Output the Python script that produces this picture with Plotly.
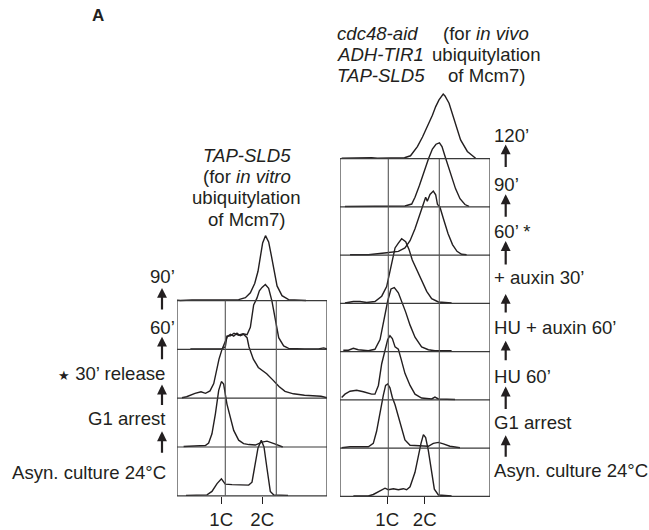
import plotly.graph_objects as go

# ---------------- data (x in channel units 0-1000, h in row heights) ----------------
left_rows = ["Asyn. culture 24°C", "G1 arrest", "<span style=\"font-size:13px\">★</span> 30’ release", "60’", "90’"]
right_rows = ["Asyn. culture 24°C", "G1 arrest", "HU 60’", "HU + auxin 60’",
              "+ auxin 30’", "60’ *", "90’", "120’"]
tick_vals_left = [295, 568]
tick_vals_right = [315, 565]
tick_text = ["1C", "2C"]
grid_x = [322, 662]

L_asyn_x = [60, 120, 200, 233, 267, 296, 322, 367, 411, 478, 500, 522, 540, 562, 580, 600, 622, 644, 700, 740]
L_asyn_h = [0.01, 0.02, 0.02, 0.09, 0.25, 0.35, 0.24, 0.23, 0.22, 0.22, 0.28, 0.7, 0.98, 1.14, 1.0, 0.56, 0.09, 0.02, 0.01, 0.01]
L_g1_x = [44, 100, 189, 211, 233, 256, 278, 296, 311, 333, 356, 378, 411, 444, 480, 522, 567, 600, 656, 705]
L_g1_h = [0.01, 0.02, 0.03, 0.08, 0.27, 0.68, 1.16, 1.34, 1.29, 0.88, 0.61, 0.34, 0.14, 0.07, 0.05, 0.04, 0.1, 0.12, 0.06, 0.0]
L_30_x = [33, 64, 120, 160, 190, 220, 245, 262, 280, 300, 318, 335, 356, 378, 400, 422, 444, 467, 480, 509, 542, 598, 640, 680, 720, 776, 850, 900, 960, 1000]
L_30_h = [0.01, 0.03, 0.1, 0.13, 0.1, 0.15, 0.3, 0.55, 0.8, 1.0, 1.15, 1.26, 1.31, 1.27, 1.33, 1.28, 1.31, 1.24, 1.05, 0.8, 0.63, 0.5, 0.37, 0.24, 0.14, 0.09, 0.06, 0.05, 0.04, 0.01]
L_60_x = [89, 189, 300, 322, 333, 356, 380, 411, 440, 467, 489, 511, 533, 549, 567, 589, 611, 633, 656, 678, 711, 744, 850, 944, 978, 1000]
L_60_h = [0.01, 0.01, 0.01, 0.05, 0.27, 0.28, 0.33, 0.29, 0.32, 0.3, 0.45, 0.91, 1.05, 1.2, 1.27, 1.33, 1.25, 0.99, 0.58, 0.24, 0.07, 0.02, 0.01, 0.01, 0.03, 0.01]
L_90_x = [0, 22, 100, 233, 411, 456, 489, 518, 540, 556, 571, 590, 611, 629, 644, 667, 700, 744, 860]
L_90_h = [0.01, 0.0, 0.01, 0.01, 0.02, 0.06, 0.16, 0.35, 0.6, 0.9, 1.18, 1.33, 1.2, 0.92, 0.65, 0.3, 0.1, 0.02, 0.0]

R_asyn_x = [89, 189, 222, 256, 300, 322, 356, 389, 422, 444, 467, 500, 522, 540, 556, 571, 589, 611, 629, 656, 744]
R_asyn_h = [0.01, 0.01, 0.04, 0.1, 0.17, 0.14, 0.16, 0.14, 0.16, 0.14, 0.2, 0.5, 0.85, 1.1, 1.28, 1.22, 0.95, 0.45, 0.15, 0.03, 0.01]
R_g1_x = [11, 67, 189, 222, 244, 267, 289, 304, 318, 333, 349, 367, 389, 411, 433, 467, 544, 589, 622, 656, 689, 733, 800]
R_g1_h = [0.01, 0.03, 0.03, 0.1, 0.35, 0.75, 1.1, 1.3, 1.33, 1.25, 1.05, 0.9, 0.66, 0.38, 0.17, 0.06, 0.04, 0.04, 0.1, 0.12, 0.09, 0.04, 0.01]
R_hu_x = [11, 33, 67, 111, 156, 211, 233, 256, 278, 300, 318, 333, 349, 367, 389, 407, 433, 467, 500, 544, 611, 633, 656, 767]
R_hu_h = [0.05, 0.12, 0.18, 0.2, 0.17, 0.12, 0.12, 0.3, 0.75, 1.05, 1.25, 1.33, 1.27, 1.1, 1.05, 0.85, 0.55, 0.3, 0.12, 0.04, 0.02, 0.06, 0.02, 0.01]
R_huaux_x = [22, 56, 89, 122, 189, 233, 267, 296, 318, 340, 362, 389, 411, 438, 467, 500, 544, 589, 633, 744]
R_huaux_h = [0.03, 0.03, 0.07, 0.04, 0.02, 0.05, 0.25, 0.7, 1.05, 1.3, 1.33, 1.22, 1.05, 0.82, 0.55, 0.3, 0.1, 0.04, 0.02, 0.02]
R_aux30_x = [33, 56, 89, 133, 178, 233, 278, 311, 344, 367, 389, 411, 438, 460, 482, 511, 544, 578, 611, 656, 744]
R_aux30_h = [0.01, 0.02, 0.04, 0.04, 0.02, 0.04, 0.15, 0.35, 0.85, 1.15, 1.25, 1.34, 1.28, 1.12, 0.9, 0.7, 0.45, 0.25, 0.1, 0.03, 0.01]
R_60_x = [67, 189, 311, 389, 433, 467, 500, 533, 556, 571, 582, 600, 622, 638, 650, 666, 690, 720, 750, 780, 811, 844]
R_60_h = [0.01, 0.01, 0.05, 0.08, 0.15, 0.3, 0.55, 0.85, 1.05, 1.2, 1.12, 1.26, 1.33, 1.25, 1.05, 1.0, 0.75, 0.45, 0.22, 0.08, 0.02, 0.01]
R_90_x = [33, 189, 433, 478, 500, 530, 560, 590, 616, 640, 663, 680, 700, 720, 745, 770, 800, 833, 860]
R_90_h = [0.01, 0.01, 0.02, 0.06, 0.2, 0.45, 0.75, 1.0, 1.2, 1.3, 1.33, 1.25, 1.05, 0.85, 0.6, 0.38, 0.17, 0.05, 0.01]
R_120_x = [11, 100, 140, 167, 211, 250, 278, 411, 430, 470, 516, 550, 583, 616, 638, 660, 688, 700, 727, 749, 771, 804, 849, 904]
R_120_h = [0.01, 0.02, 0.01, 0.02, 0.02, 0.01, 0.01, 0.01, 0.02, 0.06, 0.25, 0.45, 0.67, 0.9, 1.08, 1.22, 1.34, 1.3, 1.15, 0.94, 0.7, 0.39, 0.15, 0.01]

left_curves = [(L_asyn_x, L_asyn_h), (L_g1_x, L_g1_h), (L_30_x, L_30_h), (L_60_x, L_60_h), (L_90_x, L_90_h)]
right_curves = [(R_asyn_x, R_asyn_h), (R_g1_x, R_g1_h), (R_hu_x, R_hu_h), (R_huaux_x, R_huaux_h),
                (R_aux30_x, R_aux30_h), (R_60_x, R_60_h), (R_90_x, R_90_h), (R_120_x, R_120_h)]

W, H = 649, 530
FONT = "Liberation Sans, Arial, Helvetica, sans-serif"
INK = "#231f20"
FS = 18.6
DY = 0.5  # small vertical nudge so glyph centres sit where the reference has them

fig = go.Figure()
for i, (xs, hs) in enumerate(left_curves):
    fig.add_trace(go.Scatter(x=xs, y=[h + i for h in hs], mode="lines",
                             line=dict(color=INK, width=1.4), xaxis="x", yaxis="y",
                             showlegend=False, hoverinfo="skip"))
for i, (xs, hs) in enumerate(right_curves):
    fig.add_trace(go.Scatter(x=xs, y=[h + i for h in hs], mode="lines",
                             line=dict(color=INK, width=1.4), xaxis="x2", yaxis="y2",
                             showlegend=False, hoverinfo="skip"))

# box outlines and grid lines
shapes = []
def panel_shapes(xr, yr, nrows):
    out = [dict(type="rect", xref=xr, yref=yr, x0=0, x1=1000, y0=0, y1=nrows,
                line=dict(color="#3a3a3a", width=1.2))]
    for k in range(1, nrows):
        out.append(dict(type="line", xref=xr, yref=yr, x0=0, x1=1000, y0=k, y1=k,
                        line=dict(color="#3a3a3a", width=1.2)))
    for gx in grid_x:
        out.append(dict(type="line", xref=xr, yref=yr, x0=gx, x1=gx, y0=0, y1=nrows,
                        line=dict(color="#555", width=1.1)))
    return out
shapes += panel_shapes("x", "y", len(left_rows) - 1)
shapes += panel_shapes("x2", "y2", len(right_rows) - 1)

def px(x):
    return x / W
def py(y):
    return 1 - y / H

ann = []
def text(t, x, y, xa="center", size=FS, bold=False):
    ann.append(dict(text=("<b>%s</b>" % t) if bold else t, x=px(x), y=py(y + DY), xref="paper", yref="paper",
                    xanchor=xa, yanchor="middle", showarrow=False,
                    font=dict(family=FONT, size=size, color=INK)))
def arrow(x, ytop, ybot):
    ann.append(dict(text="", x=px(x), y=py(ytop), xref="paper", yref="paper",
                    ax=0, ay=ybot - ytop, showarrow=True, arrowhead=2, arrowsize=0.9,
                    arrowwidth=2.2, arrowcolor=INK, standoff=0))

text("A", 97.5, 15, size=17, bold=True)

# left titles
for t, y in [("<i>TAP-SLD5</i>", 156), ("(for <i>in vitro</i>", 177), ("ubiquitylation", 198), ("of Mcm7)", 220)]:
    text(t, 246.7, y)
# right titles
for t, y in [("<i>cdc48-aid</i>", 33.5), ("<i>ADH-TIR1</i>", 54.5), ("<i>TAP-SLD5</i>", 75.5)]:
    text(t, 335, y, xa="left")
for t, y in [("(for <i>in vivo</i>", 33.5), ("ubiquitylation", 54.5), ("of Mcm7)", 75.5)]:
    text(t, 486, y)

# left row labels
left_pos = [(168, 474, "right"), (168, 420, "right"), (167, 374, "right"), (162, 328, "center"), (162, 277, "center")]
for lab, (x, y, xa) in zip(left_rows, left_pos):
    text(lab, x, y, xa=xa)
for yt, yb in [(289, 312), (338, 362), (386, 408), (433, 456)]:
    arrow(162, yt, yb)

# right row labels
right_y = [472, 424, 377, 328, 278, 232, 185, 136]
for lab, y in zip(right_rows, right_y):
    text(lab, 492, y, xa="left")
for yt, yb in [(145, 169), (195, 219), (242, 267), (295, 315), (342, 363), (388, 412), (437, 460)]:
    arrow(505.7, yt, yb)

bottom_pos = (H - 498) / H
axis_common = dict(range=[0, 1000], showgrid=False, zeroline=False, showline=False,
                   ticks="outside", ticklen=7, tickwidth=1.3, tickcolor=INK,
                   tickfont=dict(family=FONT, size=FS, color=INK), anchor="free",
                   position=bottom_pos, fixedrange=True, ticktext=tick_text)

fig.update_layout(
    width=W, height=H, margin=dict(l=0, r=0, t=0, b=0),
    paper_bgcolor="white", plot_bgcolor="rgba(0,0,0,0)",
    xaxis=dict(domain=[177 / W, 327 / W], tickvals=tick_vals_left, **axis_common),
    xaxis2=dict(domain=[340 / W, 490 / W], tickvals=tick_vals_right, **axis_common),
    yaxis=dict(domain=[0, 1], range=[-(H - 497.7) / 49.0, 497.7 / 49.0], visible=False,
               anchor="x", fixedrange=True),
    yaxis2=dict(domain=[0, 1], range=[-(H - 498.3) / 48.43, 498.3 / 48.43], visible=False,
                anchor="x2", fixedrange=True),
    shapes=shapes, annotations=ann, showlegend=False,
)
fig.write_html("out.html")
